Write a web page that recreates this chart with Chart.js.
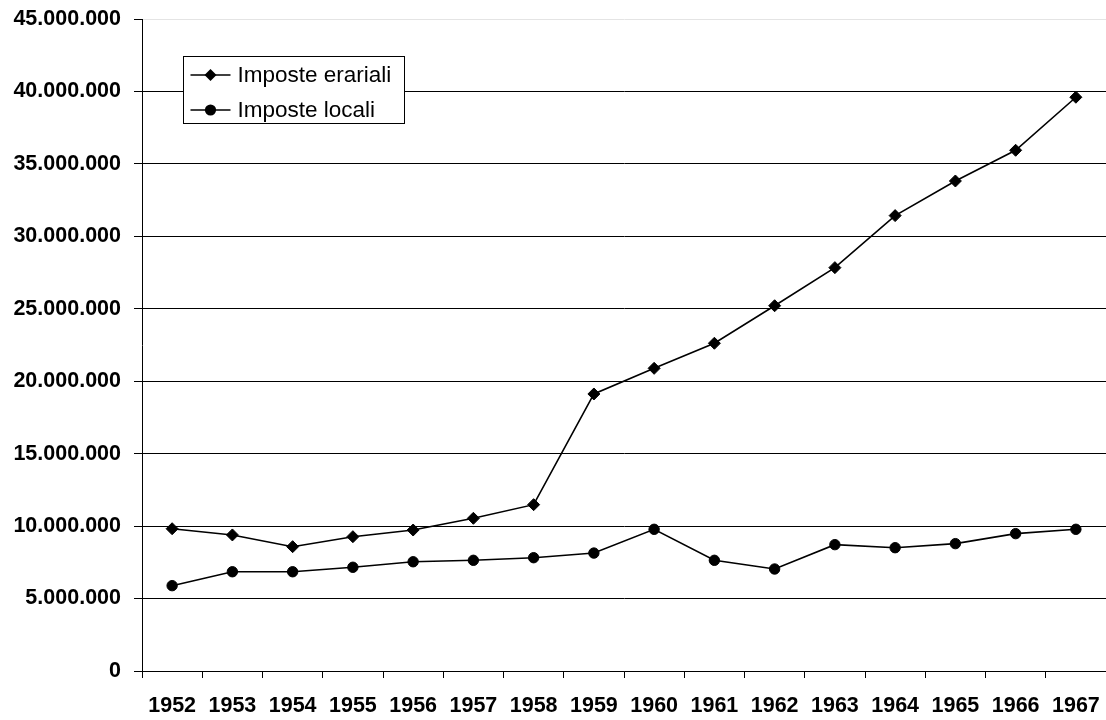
<!DOCTYPE html>
<html>
<head>
<meta charset="utf-8">
<script src="https://cdn.jsdelivr.net/npm/chart.js@4/dist/chart.umd.min.js"></script>
<style>
  html, body { margin: 0; padding: 0; background: #fff; }
  #c { display: block; }
</style>
</head>
<body>
<canvas id="c" width="1106" height="720"></canvas>
<script>
// Gettito delle imposte, 1952-1967
const anni = ['1952','1953','1954','1955','1956','1957','1958','1959',
              '1960','1961','1962','1963','1964','1965','1966','1967'];
const imposteErariali = [9820000, 9390000, 8580000, 9270000, 9730000, 10540000, 11480000, 19120000,
                         20890000, 22620000, 25210000, 27840000, 31430000, 33820000, 35940000, 39600000];
const imposteLocali   = [5890000, 6850000, 6850000, 7160000, 7540000, 7640000, 7820000, 8140000,
                         9780000, 7640000, 7040000, 8720000, 8510000, 8790000, 9480000, 9780000];
const yMin = 0, yMax = 45000000, yStep = 5000000;
const serieNomi = ['Imposte erariali', 'Imposte locali'];

const FONT = '"Liberation Sans", Arial, Helvetica, sans-serif';

function formatta(v) {
  return String(Math.round(v)).replace(/\B(?=(\d{3})+(?!\d))/g, '.');
}

// Legend drawn inside the plot area: white box, black border, line + marker samples
const legendaInterna = {
  id: 'legendaInterna',
  afterDatasetsDraw(chart) {
    const ctx = chart.ctx;
    const a = chart.chartArea;
    const bx = Math.round(a.left + 41) + 0.5;
    const by = Math.round(a.top + 37) + 0.5;
    const bw = 221, bh = 67;
    ctx.save();
    ctx.fillStyle = '#fff';
    ctx.fillRect(bx, by, bw, bh);
    ctx.strokeStyle = '#000';
    ctx.lineWidth = 1;
    ctx.strokeRect(bx, by, bw, bh);
    chart.data.datasets.forEach((ds, i) => {
      const cy = by + 18.5 + i * 35;
      const x0 = bx + 7, x1 = bx + 47, mx = (x0 + x1) / 2;
      ctx.strokeStyle = '#000';
      ctx.lineWidth = 1.5;
      ctx.beginPath();
      ctx.moveTo(x0, cy);
      ctx.lineTo(x1, cy);
      ctx.stroke();
      ctx.fillStyle = '#000';
      ctx.beginPath();
      if (ds.pointStyle === 'rectRot') {
        const r = 6;
        ctx.moveTo(mx - r, cy); ctx.lineTo(mx, cy - r);
        ctx.lineTo(mx + r, cy); ctx.lineTo(mx, cy + r);
        ctx.closePath();
      } else {
        ctx.arc(mx, cy, 5.6, 0, Math.PI * 2);
      }
      ctx.fill();
      ctx.font = '22.5px ' + FONT;
      ctx.textBaseline = 'middle';
      ctx.textAlign = 'left';
      ctx.fillText(ds.label, bx + 54, cy + 1);
    });
    ctx.restore();
  }
};

new Chart(document.getElementById('c'), {
  type: 'line',
  data: {
    labels: anni,
    datasets: [
      {
        label: serieNomi[0],
        data: imposteErariali,
        borderColor: '#000',
        borderWidth: 1.6,
        backgroundColor: '#000',
        pointStyle: 'rectRot',
        pointRadius: 6,
        pointBorderWidth: 1,
        pointBackgroundColor: '#000',
        pointBorderColor: '#000',
        tension: 0,
        fill: false
      },
      {
        label: serieNomi[1],
        data: imposteLocali,
        borderColor: '#000',
        borderWidth: 1.6,
        backgroundColor: '#000',
        pointStyle: 'circle',
        pointRadius: 5.2,
        pointBorderWidth: 1,
        pointBackgroundColor: '#000',
        pointBorderColor: '#000',
        tension: 0,
        fill: false
      }
    ]
  },
  options: {
    responsive: false,
    animation: false,
    devicePixelRatio: 1,
    layout: { autoPadding: false, padding: { top: 19, right: 0, bottom: 0, left: 0 } },
    plugins: {
      legend: { display: false },
      tooltip: { enabled: false }
    },
    scales: {
      x: {
        type: 'category',
        offset: true,
        grid: {
          display: true,
          drawOnChartArea: false,
          offset: true,
          tickLength: 7,
          color: '#000',
          tickColor: '#000'
        },
        border: { display: true, color: '#000', width: 1 },
        ticks: {
          color: '#000',
          padding: 15,
          maxRotation: 0,
          autoSkip: false,
          font: { family: FONT, size: 21.5, weight: 'bold' }
        },
        afterFit(scale) {
          scale.height = 49;
          scale.paddingLeft = 0;
          scale.paddingRight = 0;
        }
      },
      y: {
        min: yMin,
        max: yMax,
        grid: {
          color: (c) => (c.tick && c.tick.value === yMax) ? '#e4e4e4' : '#000',
          tickColor: '#000',
          tickLength: 8,
          lineWidth: 1
        },
        border: { display: true, color: '#000', width: 1 },
        ticks: {
          stepSize: yStep,
          color: '#000',
          padding: 13,
          font: { family: FONT, size: 21.5, weight: 'bold' },
          callback: (v) => formatta(v)
        },
        afterFit(scale) {
          scale.width = 142;
          scale.paddingTop = 0;
          scale.paddingBottom = 0;
        }
      }
    }
  },
  plugins: [legendaInterna]
});
</script>
</body>
</html>
